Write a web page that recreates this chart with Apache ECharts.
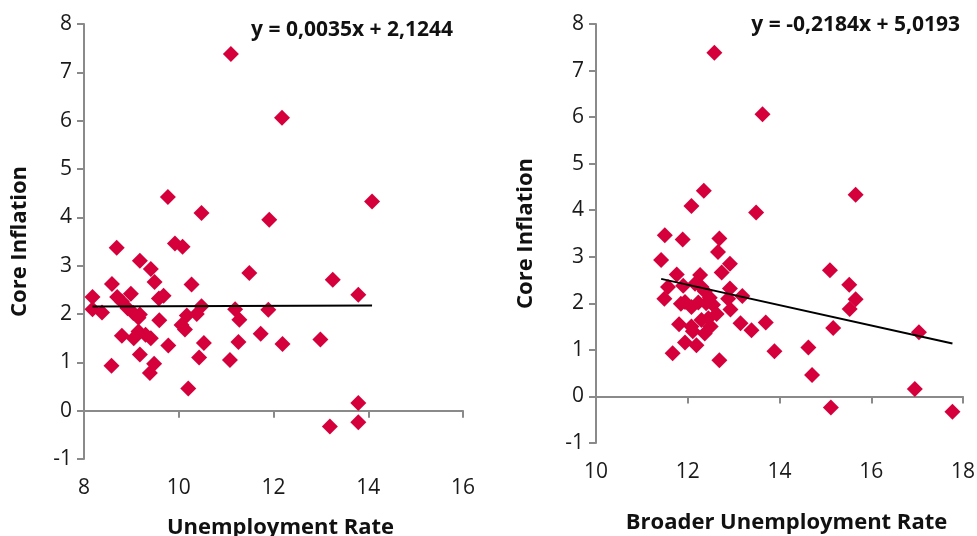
<!DOCTYPE html>
<html><head><meta charset="utf-8">
<script src="https://cdn.jsdelivr.net/npm/echarts@6/dist/echarts.min.js"></script>
<style>html,body{margin:0;padding:0;background:#fff}#c{width:977px;height:536px}</style>
</head><body><div id="c"></div>
<script>
// Core inflation (y, shared by both panels)
const coreInflation = [7.38,6.06,4.33,4.42,4.09,3.95,3.46,3.39,3.37,3.10,2.93,2.85,2.71,2.66,2.62,2.61,2.40,2.42,2.38,2.35,2.35,2.32,2.26,2.16,2.12,2.10,2.10,2.09,2.03,2.02,2.00,1.99,1.97,1.92,1.88,1.87,1.77,1.68,1.64,1.59,1.57,1.55,1.50,1.50,1.47,1.42,1.40,1.38,1.35,1.16,1.10,1.05,0.97,0.93,0.78,0.46,0.16,-0.24,-0.33];
// Unemployment rate (x, left panel)
const unemploymentRate = [11.10,12.18,14.08,9.77,10.48,11.91,9.92,10.08,8.69,9.18,9.41,11.49,13.25,9.49,8.59,10.27,13.79,8.99,9.68,8.18,8.70,9.58,8.80,10.48,8.92,8.18,11.19,11.89,8.38,9.04,10.38,9.18,10.17,9.15,11.28,9.59,10.06,10.13,9.15,11.73,9.30,8.80,9.05,9.41,12.99,11.26,10.53,12.19,9.78,9.18,10.43,11.08,9.48,8.58,9.39,10.20,13.79,13.79,13.19];
// Broader unemployment rate (x, right panel)
const broaderUnemploymentRate = [12.58,13.63,15.66,12.35,12.08,13.49,11.50,12.69,11.89,12.66,11.42,12.92,15.10,12.74,11.76,12.27,15.52,12.16,11.90,11.57,12.30,12.92,12.37,13.19,12.48,11.49,12.88,15.66,11.94,12.23,12.40,11.85,12.55,12.08,15.53,12.93,12.63,12.45,12.30,13.70,13.15,11.81,12.08,12.50,15.17,13.39,12.11,17.04,12.37,11.94,12.19,14.63,13.89,11.67,12.69,14.71,16.95,15.12,17.77];
// Trend line coefficients (as printed)
const leftSlope = 0.0035, leftIntercept = 2.1244;
const rightSlope = -0.2184, rightIntercept = 5.0193;
// Axis ranges / labels
const leftXRange = [8, 16];
const rightXRange = [10, 18];
const yRange = [-1, 8];
const xAxisTitles = ['Unemployment Rate', 'Broader Unemployment Rate'];
const yAxisTitle = 'Core Inflation';

const FONT = 'Open Sans';
const RED = '#d5003b';
const AXIS = '#8a8a8a';

function fmt(v, d) { return v.toFixed(d).replace('.', ','); }
function eqText(a, b) { return 'y = ' + fmt(a, 4) + 'x + ' + fmt(b, 4); }
function pairs(xs, ys) { return xs.map((x, i) => [x, ys[i]]); }
function trend(xs, a, b) {
  const mn = Math.min(...xs), mx = Math.max(...xs);
  return [[mn, a * mn + b], [mx, a * mx + b]];
}

const grids = [
  {left: 84, right: 514, top: 24, bottom: 77, outerBoundsMode: 'none', containLabel: false},
  {left: 596, right: 14, top: 24, bottom: 93, outerBoundsMode: 'none', containLabel: false}
];

function xAxesFor(gi, range, title, gap) {
  return [
    { // labels + title at the bottom
      type: 'value', gridIndex: gi, min: range[0], max: range[1], interval: 2, position: 'bottom',
      axisLine: {show: false, onZero: false}, axisTick: {show: false}, splitLine: {show: false},
      axisLabel: {fontFamily: FONT, fontSize: 21, color: '#1a1a1a', margin: 19},
      name: title, nameLocation: 'middle', nameGap: gap,
      nameTextStyle: {fontFamily: FONT, fontSize: 22, fontWeight: 'bold', color: '#111', padding: [0, 0, 0, 14]}
    },
    { // zero line with ticks
      type: 'value', gridIndex: gi, min: range[0], max: range[1], interval: 2, position: 'bottom',
      axisLine: {show: true, onZero: true, lineStyle: {color: AXIS, width: 2}},
      axisTick: {show: true, length: 7, lineStyle: {color: AXIS, width: 2}},
      axisLabel: {show: false}, splitLine: {show: false}
    }
  ];
}
function yAxisFor(gi, gap) {
  return {
    type: 'value', gridIndex: gi, min: yRange[0], max: yRange[1], interval: 1,
    axisLine: {show: true, onZero: false, lineStyle: {color: AXIS, width: 2}},
    axisTick: {show: true, length: 7, lineStyle: {color: AXIS, width: 2}},
    axisLabel: {fontFamily: FONT, fontSize: 21, color: '#1a1a1a', margin: 12},
    splitLine: {show: false},
    name: yAxisTitle, nameLocation: 'middle', nameGap: gap,
    nameTextStyle: {fontFamily: FONT, fontSize: 22, fontWeight: 'bold', color: '#111'}
  };
}

const chart = echarts.init(document.getElementById('c'), null, {renderer: 'canvas'});
chart.setOption({
  animation: false,
  backgroundColor: '#fff',
  title: [
    {text: eqText(leftSlope, leftIntercept), right: 519, top: 15,
     textStyle: {fontFamily: FONT, fontSize: 21, fontWeight: 'bold', color: '#111'}},
    {text: eqText(rightSlope, rightIntercept), right: 12, top: 10,
     textStyle: {fontFamily: FONT, fontSize: 21, fontWeight: 'bold', color: '#111'}}
  ],
  grid: grids,
  xAxis: [...xAxesFor(0, leftXRange, xAxisTitles[0], 58), ...xAxesFor(1, rightXRange, xAxisTitles[1], 69)],
  yAxis: [yAxisFor(0, 53), yAxisFor(1, 59)],
  series: [
    {type: 'scatter', xAxisIndex: 0, yAxisIndex: 0, symbol: 'diamond', symbolSize: 16,
     itemStyle: {color: RED, opacity: 1}, data: pairs(unemploymentRate, coreInflation), z: 2},
    {type: 'line', xAxisIndex: 0, yAxisIndex: 0, symbol: 'none', z: 3,
     lineStyle: {color: '#000', width: 2}, data: trend(unemploymentRate, leftSlope, leftIntercept)},
    {type: 'scatter', xAxisIndex: 2, yAxisIndex: 1, symbol: 'diamond', symbolSize: 16,
     itemStyle: {color: RED, opacity: 1}, data: pairs(broaderUnemploymentRate, coreInflation), z: 2},
    {type: 'line', xAxisIndex: 2, yAxisIndex: 1, symbol: 'none', z: 3,
     lineStyle: {color: '#000', width: 2}, data: trend(broaderUnemploymentRate, rightSlope, rightIntercept)}
  ]
});
</script></body></html>
